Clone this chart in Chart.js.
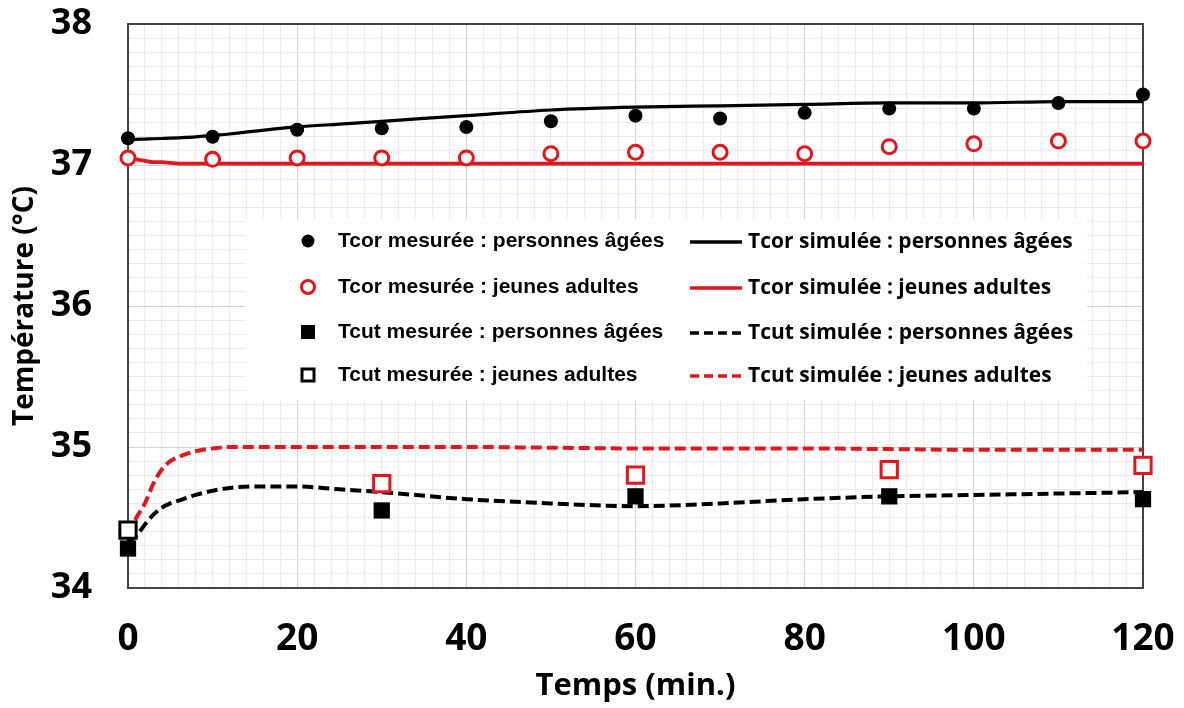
<!DOCTYPE html>
<html>
<head>
<meta charset="utf-8">
<script src="https://cdn.jsdelivr.net/npm/chart.js@4"></script>
<style>
  html, body { margin: 0; padding: 0; background: #fff; }
</style>
</head>
<body>
<canvas id="chart1" width="1184" height="708"></canvas>
<script>

// mesures (points)
var tempsMes = [0, 10, 20, 30, 40, 50, 60, 70, 80, 90, 100, 110, 120];
var tcorMesAgees  = [37.19, 37.20, 37.25, 37.26, 37.27, 37.31, 37.35, 37.33, 37.37, 37.40, 37.40, 37.44, 37.50];
var tcorMesJeunes = [37.05, 37.04, 37.05, 37.05, 37.05, 37.08, 37.09, 37.09, 37.08, 37.13, 37.15, 37.17, 37.17];

var tempsCut = [0, 30, 60, 90, 120];
var tcutMesAgees  = [34.28, 34.55, 34.65, 34.65, 34.63];
var tcutMesJeunes = [34.41, 34.74, 34.80, 34.84, 34.87];

// simulations (courbes)
var tempsSim = [0, 1, 2, 3, 4, 5, 6, 8, 10, 12, 15, 20, 25, 30, 40, 50, 60, 70, 80, 90, 100, 110, 120];
var tcorSimAgees  = [37.18, 37.182, 37.184, 37.186, 37.188, 37.19, 37.193, 37.20, 37.21, 37.22, 37.24, 37.27, 37.29, 37.31, 37.35, 37.39, 37.41, 37.42, 37.43, 37.44, 37.44, 37.45, 37.45];
var tcorSimJeunes = [37.06, 37.04, 37.03, 37.02, 37.02, 37.015, 37.01, 37.01, 37.01, 37.01, 37.01, 37.01, 37.01, 37.01, 37.01, 37.01, 37.01, 37.01, 37.01, 37.01, 37.01, 37.01, 37.01];
var tcutSimAgees  = [34.33, 34.37, 34.45, 34.52, 34.57, 34.60, 34.62, 34.66, 34.69, 34.71, 34.72, 34.72, 34.70, 34.68, 34.63, 34.60, 34.58, 34.60, 34.63, 34.65, 34.66, 34.67, 34.68];
var tcutSimJeunes = [34.38, 34.50, 34.60, 34.74, 34.84, 34.90, 34.93, 34.97, 34.99, 35.00, 35.00, 35.00, 35.00, 35.00, 35.00, 34.995, 34.99, 34.99, 34.99, 34.985, 34.98, 34.98, 34.98];

var labelsMes = ['Tcor mesurée : personnes âgées', 'Tcor mesurée : jeunes adultes', 'Tcut mesurée : personnes âgées', 'Tcut mesurée : jeunes adultes'];
var labelsSim = ['Tcor simulée : personnes âgées', 'Tcor simulée : jeunes adultes', 'Tcut simulée : personnes âgées', 'Tcut simulée : jeunes adultes'];

var rouge = '#e2171d';
var noir = '#000000';
var policeTexte = "'Open Sans', sans-serif";


function points(xs, ys) {
  var arr = new Array;
  for (let i = 0; i < xs.length; i++) {
    arr.push({x: xs[i], y: ys[i]});
  }
  return arr;
}

function mesure(label, xs, ys, style, couleur, plein) {
  return {
    label: label,
    data: points(xs, ys),
    pointStyle: style,
    pointRadius: style == 'rect' ? 11.5 : 7,
    pointHoverRadius: style == 'rect' ? 11.5 : 7,
    pointBackgroundColor: plein ? couleur : '#ffffff',
    pointBorderColor: couleur,
    pointBorderWidth: plein ? 0 : 3,
    backgroundColor: plein ? couleur : '#ffffff',
    borderColor: couleur,
    showLine: false,
    clip: false
  };
}

function simule(label, ys, couleur, pointille) {
  return {
    label: label,
    data: points(tempsSim, ys),
    showLine: true,
    borderColor: couleur,
    backgroundColor: couleur,
    borderWidth: pointille ? 4 : (couleur == rouge ? 3.8 : 3.2),
    borderDash: pointille ? [11, 5] : [],
    pointRadius: 0,
    pointHoverRadius: 0,
    cubicInterpolationMode: 'monotone',
    fill: false,
    clip: false
  };
}


// cadre + légende en deux colonnes sur fond blanc
const legendeCadre = {
  id: 'legendeCadre',
  beforeDatasetsDraw(chart) {
    const ctx = chart.ctx;
    const a = chart.chartArea;
    ctx.save();

    ctx.strokeStyle = '#444444';
    ctx.lineWidth = 2;
    ctx.strokeRect(a.left, a.top, a.right - a.left, a.bottom - a.top);

    ctx.fillStyle = '#ffffff';
    ctx.fillRect(245, 219, 842, 181);

    var lignes = [241, 287, 332, 375];
    var ds = chart.data.datasets;

    ctx.textBaseline = 'middle';
    ctx.textAlign = 'left';

    for (let i = 0; i < 4; i++) {
      var d = ds[i];
      var y = lignes[i];
      var mx = 308;
      ctx.lineWidth = 3;
      if (d.pointStyle == 'circle') {
        ctx.beginPath();
        ctx.arc(mx, y, 6.5, 0, Math.PI * 2);
        if (d.pointBorderWidth == 0) {
          ctx.fillStyle = d.borderColor;
          ctx.fill();
        } else {
          ctx.strokeStyle = d.borderColor;
          ctx.stroke();
        }
      } else {
        if (d.pointBorderWidth == 0) {
          ctx.fillStyle = d.borderColor;
          ctx.fillRect(mx - 7, y - 7, 14, 14);
        } else {
          ctx.strokeStyle = d.borderColor;
          ctx.strokeRect(mx - 6, y - 6, 12, 12);
        }
      }
      ctx.fillStyle = '#000';
      ctx.font = "bold 21px 'Liberation Sans', Arial, sans-serif";
      ctx.fillText(d.label, 338, y);
    }

    for (let i = 0; i < 4; i++) {
      var d = ds[4 + i];
      var y = lignes[i] + 1;
      ctx.strokeStyle = d.borderColor;
      ctx.lineWidth = 3.5;
      ctx.setLineDash(d.borderDash.length ? [9, 5] : []);
      ctx.beginPath();
      ctx.moveTo(690, y);
      ctx.lineTo(742, y);
      ctx.stroke();
      ctx.setLineDash([]);
      ctx.fillStyle = '#000';
      ctx.font = 'bold 21px ' + policeTexte;
      ctx.fillText(d.label, 748, y);
    }

    ctx.restore();
  }
};


var jeunesCut = mesure(labelsMes[3], tempsCut, tcutMesJeunes, 'rect', noir, false);
// le premier carré (t = 0) est noir, les suivants rouges
jeunesCut.pointBorderColor = [noir, rouge, rouge, rouge, rouge];

const ctx1 = document.getElementById('chart1').getContext('2d');
const chart1 = new Chart(ctx1, {
  type: 'scatter',
  data: {
    datasets: [
      mesure(labelsMes[0], tempsMes, tcorMesAgees, 'circle', noir, true),
      mesure(labelsMes[1], tempsMes, tcorMesJeunes, 'circle', rouge, false),
      mesure(labelsMes[2], tempsCut, tcutMesAgees, 'rect', noir, true),
      jeunesCut,
      simule(labelsSim[0], tcorSimAgees, noir, false),
      simule(labelsSim[1], tcorSimJeunes, rouge, false),
      simule(labelsSim[2], tcutSimAgees, noir, true),
      simule(labelsSim[3], tcutSimJeunes, rouge, true)
    ]
  },
  options: {
    responsive: false,
    animation: false,
    devicePixelRatio: 1,
    layout: {
      padding: {left: 0, right: 41, top: 24, bottom: 0}
    },
    plugins: {
      legend: {display: false},
      tooltip: {enabled: false}
    },
    scales: {
      x: {
        type: 'linear',
        min: 0,
        max: 120,
        afterFit: function(scale) {
          scale.height = 120;
          scale.paddingLeft = 0;
          scale.paddingRight = 0;
        },
        ticks: {
          stepSize: 2,
          autoSkip: false,
          maxRotation: 0,
          padding: 29,
          color: '#000',
          font: {family: policeTexte, size: 37, weight: 'bold'},
          callback: function(v) { return v % 20 === 0 ? v : ''; }
        },
        grid: {
          drawTicks: false,
          color: function(c) { return c.tick && c.tick.value % 20 === 0 ? '#d3d3d3' : '#eaeaea'; }
        },
        border: {display: false},
        title: {
          display: true,
          text: 'Temps (min.)',
          color: '#000',
          font: {family: policeTexte, size: 31, weight: 'bold'},
          padding: {top: 0, bottom: 3}
        }
      },
      y: {
        type: 'linear',
        min: 34,
        max: 38,
        afterFit: function(scale) {
          scale.width = 128;
          scale.paddingTop = 0;
          scale.paddingBottom = 0;
        },
        ticks: {
          stepSize: 0.1,
          autoSkip: false,
          padding: 36,
          color: '#000',
          font: {family: policeTexte, size: 36, weight: 'bold'},
          callback: function(v) { return Math.abs(v - Math.round(v)) < 1e-6 ? Math.round(v) : ''; }
        },
        grid: {
          drawTicks: false,
          color: function(c) {
            if (!c.tick) return '#eaeaea';
            var v = c.tick.value;
            return Math.abs(v - Math.round(v)) < 1e-6 ? '#d3d3d3' : '#eaeaea';
          }
        },
        border: {display: false},
        title: {
          display: true,
          text: 'Température (°C)',
          color: '#000',
          font: {family: policeTexte, size: 28, weight: 'bold'},
          padding: {top: 8, bottom: 8}
        }
      }
    }
  },
  plugins: [legendeCadre]
});

</script>
</body>
</html>
